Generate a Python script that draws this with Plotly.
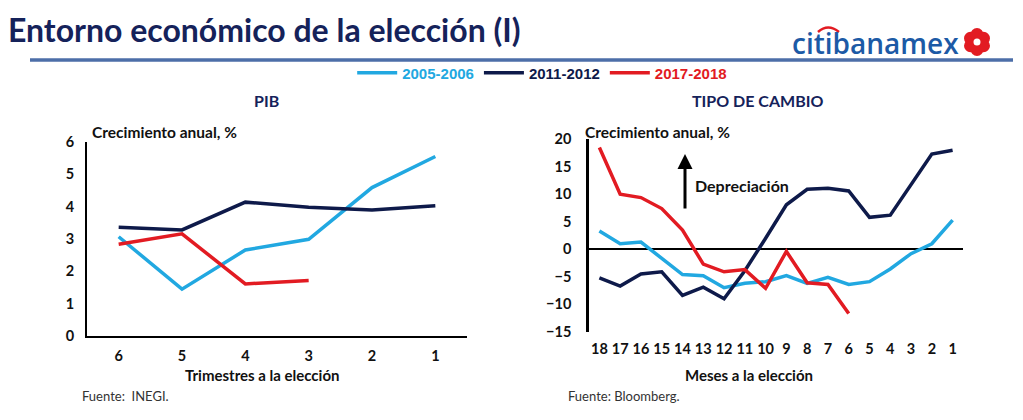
import math
import plotly.graph_objects as go

W, H = 1023, 420

# ---------------- data ----------------
pib_cats = ["6", "5", "4", "3", "2", "1"]
pib_2005 = [3.07, 1.45, 2.66, 2.99, 4.59, 5.55]
pib_2011 = [3.36, 3.28, 4.14, 3.98, 3.90, 4.03]
pib_2017 = [2.84, 3.16, 1.61, 1.72, None, None]

tc_cats = ["18", "17", "16", "15", "14", "13", "12", "11", "10",
           "9", "8", "7", "6", "5", "4", "3", "2", "1"]
tc_2005 = [3.3, 1.0, 1.3, -1.6, -4.6, -4.8, -7.0, -6.2, -5.9,
           -4.8, -6.2, -5.1, -6.4, -5.9, -3.6, -0.8, 1.0, 5.3]
tc_2011 = [-5.2, -6.7, -4.5, -4.1, -8.4, -6.9, -9.0, -3.9, 2.0,
           8.1, 10.9, 11.1, 10.6, 5.8, 6.2, 11.7, 17.3, 18.0]
tc_2017 = [18.5, 10.0, 9.4, 7.4, 3.5, -2.7, -4.1, -3.7, -7.1,
           -0.4, -6.1, -6.4, -11.7, None, None, None, None, None]

series_names = ["2005-2006", "2011-2012", "2017-2018"]
colors = ["#21A8E1", "#0E1A4A", "#E21B22"]

# ---------------- helpers (pixel -> paper) ----------------
def px(x):
    return x / W

def py(y):
    return 1 - y / H

NAVY = "#15225A"
FONT = "Lato, 'Open Sans', sans-serif"

fig = go.Figure()

pib_series = [pib_2005, pib_2011, pib_2017]
tc_series = [tc_2005, tc_2011, tc_2017]

for name, col, vals in zip(series_names, colors, pib_series):
    fig.add_trace(go.Scatter(
        x=pib_cats, y=vals, mode="lines", xaxis="x", yaxis="y",
        line=dict(color=col, width=3.5),
        name=f"<span style='color:{col}'>{name}</span>",
        legendgroup=name, showlegend=True, hoverinfo="skip",
    ))
for name, col, vals in zip(series_names, colors, tc_series):
    fig.add_trace(go.Scatter(
        x=tc_cats, y=vals, mode="lines", xaxis="x2", yaxis="y2",
        line=dict(color=col, width=3.5),
        name=name, legendgroup=name, showlegend=False, hoverinfo="skip",
    ))

tickfont = dict(family=FONT, size=14.5, color="#111111", weight="bold")
titlefont = dict(family=FONT, size=15, color="#111111", weight="bold")

fig.update_layout(
    width=W, height=H,
    margin=dict(l=0, r=0, t=0, b=0, autoexpand=False),
    paper_bgcolor="white", plot_bgcolor="white",
    font=dict(family=FONT),
    showlegend=True,
    legend=dict(
        orientation="h", x=0.53, xanchor="center", y=py(73), yanchor="middle",
        font=dict(family="'Liberation Sans Narrow', 'Liberation Sans', Arial", size=15, weight="bold"),
        itemwidth=40, tracegroupgap=0, bgcolor="rgba(0,0,0,0)",
    ),
    xaxis=dict(
        domain=[px(87), px(467)], type="category", range=[-0.5, 5.5],
        showline=True, linecolor="black", linewidth=2, ticks="",
        showgrid=False, zeroline=False, tickfont=tickfont,
        ticklabelstandoff=6, automargin=False, anchor="y",
    ),
    yaxis=dict(
        domain=[py(336), py(142)], range=[0, 6], dtick=1,
        showline=True, linecolor="black", linewidth=2, ticks="",
        showgrid=False, zeroline=False, tickfont=tickfont,
        ticklabelstandoff=8, automargin=False, anchor="x",
    ),
    xaxis2=dict(
        domain=[px(589), px(963)], type="category", range=[-0.5, 17.5],
        showline=False, ticks="", showgrid=False, zeroline=False,
        tickfont=tickfont, ticklabelstandoff=7,
        automargin=False, anchor="y2",
    ),
    yaxis2=dict(
        domain=[py(331.7), py(139.3)], range=[-15, 20], dtick=5,
        showline=True, linecolor="black", linewidth=2.5, ticks="",
        showgrid=False, zeroline=True, zerolinecolor="black", zerolinewidth=1.5,
        tickfont=tickfont, ticklabelstandoff=12, automargin=False, anchor="x2",
    ),
)

annotations = [
    # main title
    dict(text="Entorno económico de la elección (I)", x=px(6), y=py(30),
         xanchor="left", yanchor="middle",
         font=dict(family=FONT, size=32, color=NAVY, weight="bold")),
    # logo text
    dict(text="citibanamex", x=px(961), y=py(43), xanchor="right", yanchor="middle",
         font=dict(family="'Open Sans', sans-serif", size=28, color="#1C5AA6", weight=600)),
    # subplot titles
    dict(text="PIB", x=px(266), y=py(100), xanchor="center", yanchor="middle",
         font=dict(family=FONT, size=16, color=NAVY, weight="bold")),
    dict(text="TIPO DE CAMBIO", x=px(757), y=py(100), xanchor="center", yanchor="middle",
         font=dict(family=FONT, size=16, color=NAVY, weight="bold")),
    # y titles
    dict(text="Crecimiento anual, %", x=px(90), y=py(132), xanchor="left", yanchor="middle",
         font=dict(family=FONT, size=15.5, color="#111111", weight="bold")),
    dict(text="Crecimiento anual, %", x=px(583), y=py(132), xanchor="left", yanchor="middle",
         font=dict(family=FONT, size=15.5, color="#111111", weight="bold")),
    # x titles
    dict(text="Trimestres a la elección", x=px(262), y=py(375), xanchor="center", yanchor="middle",
         font=titlefont),
    dict(text="Meses a la elección", x=px(749), y=py(375), xanchor="center", yanchor="middle",
         font=titlefont),
    # Depreciación
    dict(text="Depreciación", x=px(693), y=py(185), xanchor="left", yanchor="middle",
         font=dict(family=FONT, size=16, color="#111111", weight="bold")),
    dict(text="", x=px(685), y=py(154), ax=0, ay=56, showarrow=True,
         arrowhead=2, arrowsize=1, arrowwidth=3, arrowcolor="black"),
    # sources
    dict(text="Fuente:  INEGI.", x=px(80), y=py(396), xanchor="left", yanchor="middle",
         font=dict(family=FONT, size=13, color="#333333")),
    dict(text="Fuente: Bloomberg.", x=px(566), y=py(396), xanchor="left", yanchor="middle",
         font=dict(family=FONT, size=13, color="#333333")),
]
for a in annotations:
    a.setdefault("xref", "paper")
    a.setdefault("yref", "paper")
    a.setdefault("showarrow", False)
    fig.add_annotation(**a)

shapes = [
    # rule under title
    dict(type="line", x0=px(30), x1=px(1013), y0=py(60), y1=py(60),
         line=dict(color="#4C6EA8", width=3.5)),
    # red arc over "ti" in logo
    dict(type="path", path=f"M {px(818)} {py(32)} Q {px(828)} {py(23)} {px(839)} {py(32)}",
         line=dict(color="#E21B22", width=2.5)),
]
# logo flower: petals around centre
cx, cy, r, pr = 977, 42, 7.5, 6.5
for k in range(6):
    ang = math.pi / 2 + k * math.pi / 3
    x = cx + r * math.cos(ang)
    y = cy + r * math.sin(ang)
    shapes.append(dict(type="circle", x0=px(x - pr), x1=px(x + pr), y0=py(y + pr), y1=py(y - pr),
                       fillcolor="#E21B22", line=dict(width=0)))
shapes.append(dict(type="circle", x0=px(cx - 3.5), x1=px(cx + 3.5), y0=py(cy + 3.5), y1=py(cy - 3.5),
                   fillcolor="white", line=dict(width=0)))
for s in shapes:
    s.setdefault("xref", "paper")
    s.setdefault("yref", "paper")
    fig.add_shape(**s)

fig.write_html("out.html")
